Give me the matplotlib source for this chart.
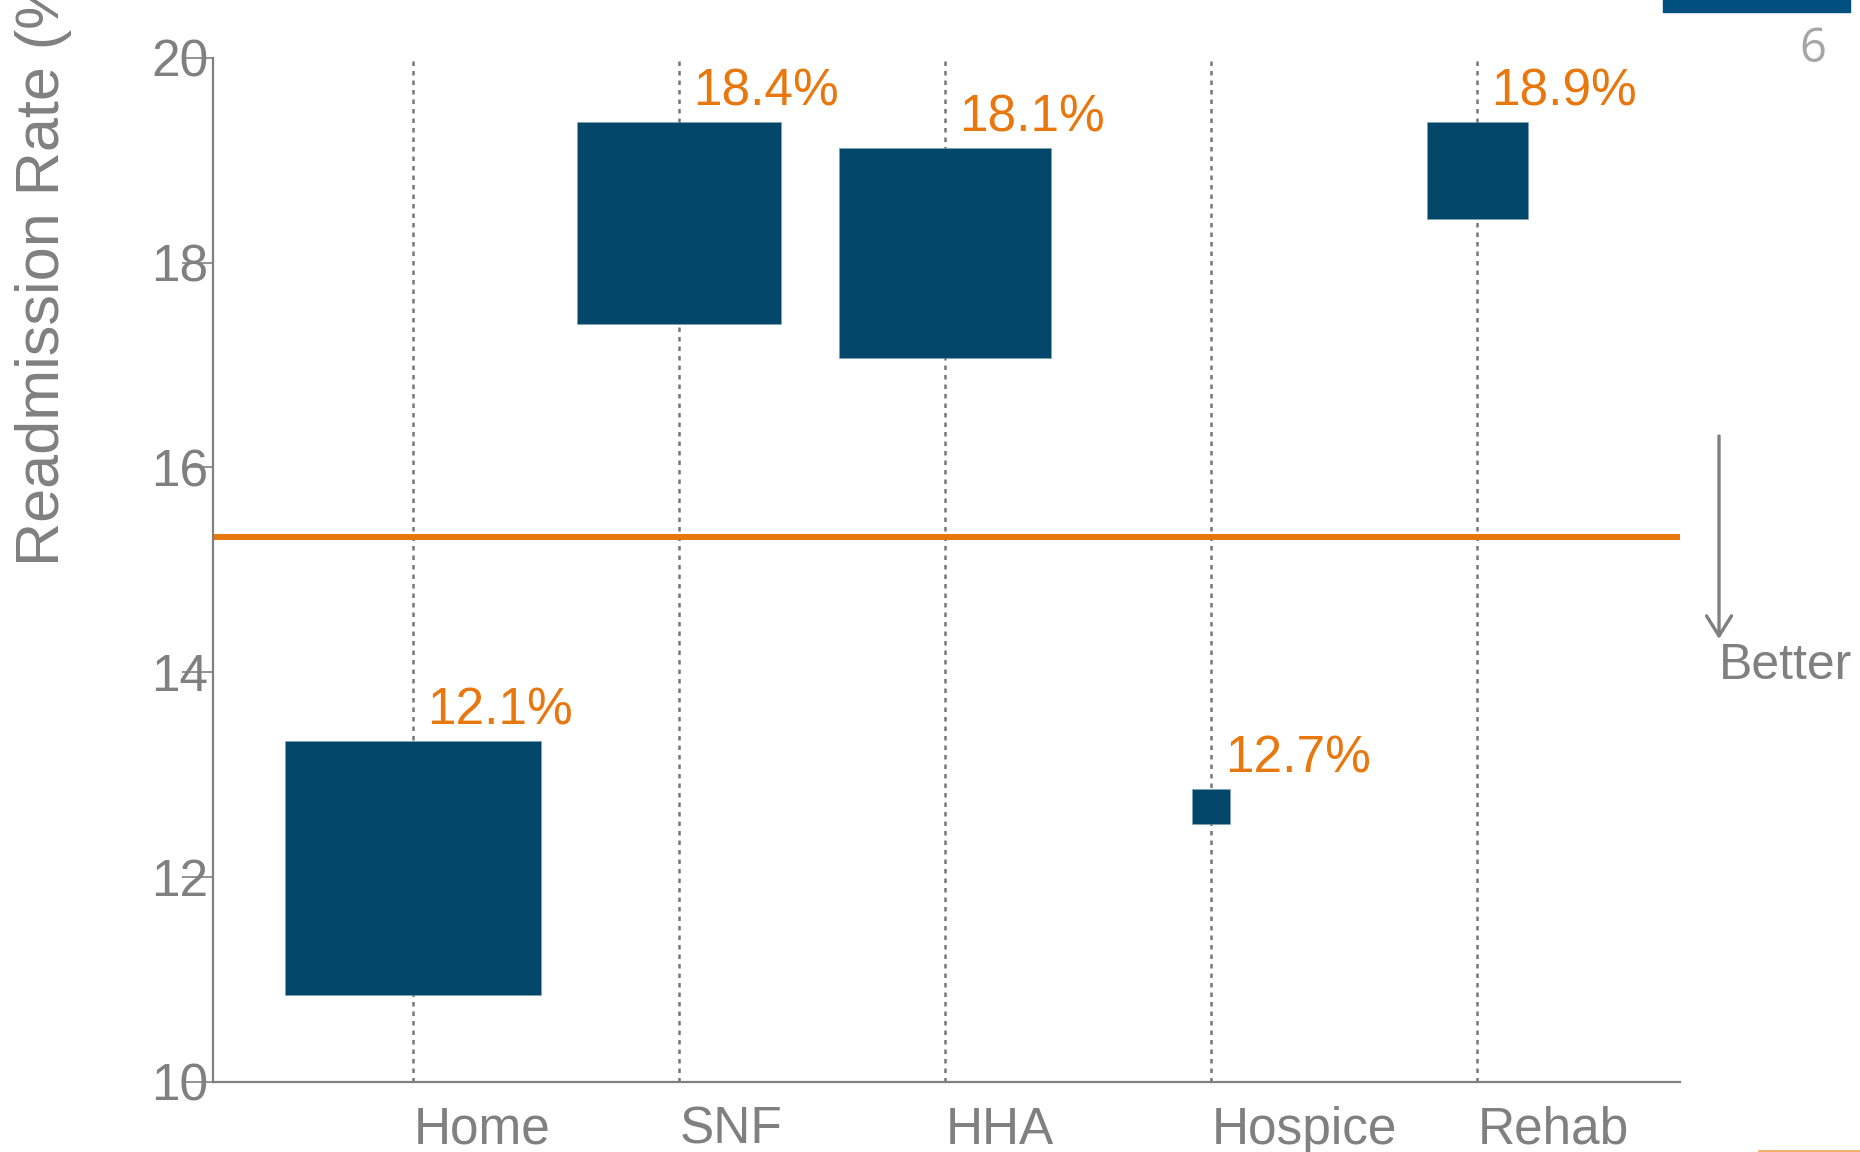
import matplotlib
matplotlib.use("Agg")
import matplotlib.pyplot as plt
from matplotlib.patches import Rectangle
from matplotlib.lines import Line2D
import matplotlib.transforms as mtransforms
import numpy as np

# ---- data ----
categories = ['Home', 'SNF', 'HHA', 'Hospice', 'Rehab']
rates = [12.1, 18.4, 18.1, 12.7, 18.9]
ci_low = [10.85, 17.40, 17.07, 12.52, 18.43]
ci_high = [13.33, 19.37, 19.12, 12.86, 19.37]
rel_volume = [0.962, 0.767, 0.797, 0.143, 0.38]   # box widths
benchmark = 15.32
y_ticks = [10, 12, 14, 16, 18, 20]
y_label = 'Readmission Rate (%)'
page_number = '6'

# ---- style ----
GRAY = '#808080'
BLUE = '#02466A'
ORANGE = '#E8770E'
plt.rcParams['font.family'] = ['Liberation Sans', 'DejaVu Sans']

W, H = 1860, 1152
fig = plt.figure(figsize=(W / 100, H / 100), dpi=100)
ax = fig.add_axes([213 / W, 1 - 1082 / H, (1680 - 213) / W, (1082 - 57.7) / H])

x = np.arange(len(categories))

# vertical dotted guides
for xi in x:
    ax.axvline(xi, color='#777777', lw=1.8, ls=(0, (1.8, 2.0)), zorder=1)

# boxes
heights = np.array(ci_high) - np.array(ci_low)
ax.bar(x, heights, bottom=ci_low, width=rel_volume, color=BLUE, zorder=3,
       edgecolor='#7fa3b8', linewidth=0.4)

# benchmark line
ax.axhline(benchmark, color=ORANGE, lw=4.3, zorder=2)

# value labels
for xi, top, r in zip(x, ci_high, rates):
    ax.annotate(f'{r:.1f}%', xy=(xi, top), xytext=(9.8, 12.0),
                textcoords='offset points', ha='left', va='baseline',
                fontsize=37, color=ORANGE, zorder=4)

ax.set_xlim(-0.752, 4.763)
ax.set_ylim(10, 20)
ax.set_yticks(y_ticks)
ax.set_yticklabels([str(t) for t in y_ticks])
ax.set_xticks(x)
ax.set_xticklabels(categories, ha='left')

for s in ['top', 'right']:
    ax.spines[s].set_visible(False)
for s in ['left', 'bottom']:
    ax.spines[s].set_color(GRAY)
    ax.spines[s].set_linewidth(1.6)

ax.tick_params(axis='y', direction='out', length=22.3, width=1.2, color=GRAY,
               labelsize=37, labelcolor=GRAY, pad=-19.0)
ax.tick_params(axis='x', length=0, labelsize=37, labelcolor=GRAY, pad=17)
offset = mtransforms.ScaledTranslation(1 / 100, 0, fig.dpi_scale_trans)
for lbl in ax.get_xticklabels():
    lbl.set_transform(lbl.get_transform() + offset)
for lbl in ax.get_yticklabels():
    lbl.set_zorder(5)

# y axis label
fig.text(43.5 / W, 1 - 566 / H, y_label, rotation=90, ha='center', va='bottom',
         fontsize=44, color=GRAY)

# "Better" arrow
ax.annotate('', xy=(1.0266, 0.4325), xytext=(1.0266, 0.6307),
            xycoords='axes fraction', textcoords='axes fraction',
            arrowprops=dict(arrowstyle='->,head_length=0.72,head_width=0.45',
                            color=GRAY, lw=2.4, mutation_scale=20,
                            shrinkA=0, shrinkB=0),
            annotation_clip=False)
ax.text(1.0266, 0.3934, 'Better', transform=ax.transAxes, ha='left',
        va='baseline', fontsize=36, color=GRAY, clip_on=False)

# slide decorations
fig.patches.append(Rectangle((1663 / W, 1 - 12 / H), 187 / W, 12 / H,
                             transform=fig.transFigure, color='#00507F'))
fig.text(1813 / W, 1 - 49 / H, page_number, ha='center', va='center',
         fontsize=34, color='#A6A6A6', family=['Open Sans', 'DejaVu Sans'])
fig.lines.append(Line2D([1759 / W, 1], [1 - 1150.5 / H] * 2,
                        transform=fig.transFigure, color='#F0A050', lw=1.2))

fig.savefig('out.png', dpi=100)
